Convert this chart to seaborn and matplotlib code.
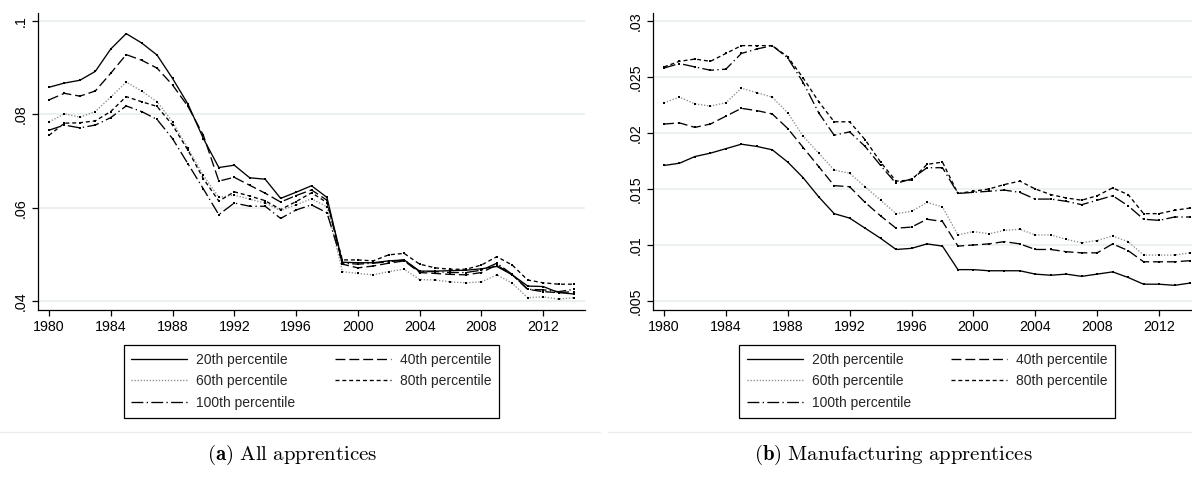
import matplotlib
matplotlib.use("Agg")
import matplotlib.pyplot as plt
from matplotlib.lines import Line2D
from matplotlib.ticker import FuncFormatter
import seaborn as sns

# ---- data -------------------------------------------------------------
years = list(range(1980, 2015))

all_p20 = [.0858, .0867, .0873, .0892, .0940, .0973, .0953, .0927, .0877, .0822,
           .0748, .0686, .0691, .0664, .0661, .0620, .0633, .0647, .0622, .0483,
           .0482, .0482, .0486, .0488, .0464, .0464, .0465, .0466, .0469, .0474,
           .0456, .0432, .0431, .0418, .0415]
all_p40 = [.0831, .0845, .0839, .0850, .0888, .0928, .0916, .0899, .0863, .0817,
           .0755, .0657, .0665, .0648, .0631, .0612, .0626, .0638, .0616, .0479,
           .0471, .0475, .0481, .0486, .0461, .0459, .0457, .0456, .0461, .0477,
           .0456, .0425, .0420, .0418, .0420]
all_p60 = [.0784, .0801, .0794, .0806, .0837, .0869, .0850, .0827, .0784, .0727,
           .0669, .0622, .0627, .0618, .0610, .0594, .0606, .0619, .0602, .0463,
           .0459, .0456, .0463, .0468, .0446, .0445, .0441, .0439, .0441, .0456,
           .0438, .0407, .0409, .0404, .0407]
all_p80 = [.0755, .0781, .0782, .0786, .0806, .0838, .0827, .0817, .0777, .0723,
           .0662, .0614, .0634, .0625, .0615, .0596, .0613, .0632, .0611, .0488,
           .0488, .0486, .0499, .0502, .0479, .0471, .0468, .0468, .0477, .0495,
           .0477, .0445, .0439, .0436, .0436]
all_p100 = [.0766, .0777, .0771, .0777, .0793, .0818, .0806, .0789, .0748, .0694,
            .0640, .0585, .0610, .0603, .0603, .0577, .0595, .0606, .0589, .0481,
            .0479, .0481, .0484, .0488, .0463, .0463, .0461, .0461, .0466, .0481,
            .0457, .0425, .0424, .0420, .0425]

mfg_p20 = [.0171, .0173, .0179, .0182, .0186, .0190, .0188, .0185, .0174, .0160,
           .0143, .0128, .0124, .0115, .0106, .0096, .0097, .0101, .0099, .0078,
           .0078, .0077, .0077, .0077, .0074, .0073, .0074, .0072, .0074, .0076,
           .0071, .0065, .0065, .0064, .0066]
mfg_p40 = [.0208, .0209, .0205, .0208, .0215, .0222, .0220, .0217, .0204, .0187,
           .0170, .0153, .0152, .0138, .0126, .0115, .0116, .0123, .0121, .0099,
           .0100, .0101, .0103, .0101, .0096, .0096, .0094, .0093, .0093, .0101,
           .0095, .0085, .0085, .0085, .0086]
mfg_p60 = [.0227, .0232, .0226, .0224, .0227, .0240, .0236, .0232, .0218, .0197,
           .0182, .0167, .0164, .0152, .0140, .0128, .0130, .0138, .0134, .0109,
           .0112, .0110, .0113, .0114, .0109, .0109, .0105, .0102, .0104, .0108,
           .0103, .0091, .0091, .0091, .0093]
mfg_p80 = [.0259, .0264, .0266, .0264, .0271, .0278, .0278, .0278, .0268, .0249,
           .0228, .0210, .0210, .0194, .0174, .0157, .0158, .0172, .0174, .0146,
           .0148, .0150, .0154, .0157, .0150, .0145, .0142, .0140, .0144, .0151,
           .0145, .0128, .0128, .0131, .0133]
mfg_p100 = [.0258, .0262, .0259, .0256, .0257, .0271, .0275, .0278, .0267, .0245,
            .0218, .0198, .0201, .0188, .0171, .0155, .0159, .0169, .0169, .0146,
            .0147, .0148, .0149, .0147, .0141, .0141, .0139, .0136, .0140, .0144,
            .0135, .0123, .0122, .0125, .0125]

series_labels = ["20th percentile", "40th percentile", "60th percentile",
                 "80th percentile", "100th percentile"]
xticks = list(range(1980, 2013, 4))
all_yticks = [.04, .06, .08, .1]
mfg_yticks = [.005, .01, .015, .02, .025, .03]
captions = [r"$\mathbf{(a)}\ \mathrm{All\ apprentices}$",
            r"$\mathbf{(b)}\ \mathrm{Manufacturing\ apprentices}$"]

# ---- styling ----------------------------------------------------------
sns.set_theme(style="white")
plt.rcParams["font.family"] = ["Liberation Sans", "DejaVu Sans"]
plt.rcParams["mathtext.fontset"] = "cm"

line_styles = [
    ("black", "-"),
    ("black", (0, (7.5, 3))),
    ("#8c8c8c", (0, (1, 1.3))),
    ("black", (0, (3, 2.2))),
    ("black", (0, (9, 2.5, 1, 2.5))),
]
LW = 0.95
GRID = "#e6eef0"

W, H = 1192, 484
fig = plt.figure(figsize=(W / 100, H / 100), dpi=100)
fig.patch.set_facecolor("white")


def add_axes_px(x0, x1, ytop, ybot):
    return fig.add_axes([x0 / W, 1 - ybot / H, (x1 - x0) / W, (ybot - ytop) / H])


def stata_fmt(v, _pos=None):
    s = ("%g" % round(v, 4))
    return s[1:] if s.startswith("0.") else s


def draw_panel(ax, series, yticks, ylim, legend_cx):
    for vals, (col, ls) in zip(series, line_styles):
        sns.lineplot(x=years, y=vals, ax=ax, color=col, linestyle=ls,
                     linewidth=LW, marker="s", markersize=1.7,
                     markerfacecolor="black", markeredgecolor="black",
                     markeredgewidth=0, errorbar=None, legend=False)
    ax.set_xlim(1979.29, 2014.71)
    ax.set_ylim(*ylim)
    ax.set_xticks(xticks)
    ax.set_yticks(yticks)
    ax.yaxis.set_major_formatter(FuncFormatter(stata_fmt))
    ax.set_xlabel("")
    ax.set_ylabel("")
    ax.set_axisbelow(True)
    ax.yaxis.grid(True, color=GRID, linewidth=1.1)
    ax.xaxis.grid(False)
    for side in ("top", "right"):
        ax.spines[side].set_visible(False)
    for side in ("left", "bottom"):
        ax.spines[side].set_color("black")
        ax.spines[side].set_linewidth(0.9)
    ax.tick_params(axis="both", which="major", length=4, width=0.9,
                   color="black", direction="out", labelsize=10.3, pad=3.5,
                   left=True, bottom=True, labelcolor="black")
    for lbl in ax.get_yticklabels():
        lbl.set_rotation(90)
        lbl.set_va("center")

    handles = [Line2D([], [], color=c, linestyle=ls, linewidth=LW)
               for c, ls in line_styles]
    order = [0, 2, 4, 1, 3]
    leg = fig.legend([handles[i] for i in order],
                     [series_labels[i] for i in order],
                     loc="upper center",
                     bbox_to_anchor=(legend_cx / W, 1 - 345 / H),
                     bbox_transform=fig.transFigure, borderaxespad=0,
                     ncol=2, fontsize=10, handlelength=4.0,
                     handletextpad=0.65, columnspacing=2.9,
                     labelspacing=0.55, borderpad=0.55,
                     frameon=True, fancybox=False, shadow=False)
    fr = leg.get_frame()
    fr.set_edgecolor("black")
    fr.set_linewidth(0.9)
    fr.set_alpha(1)


ax_a = add_axes_px(38, 585, 12.7, 310)
draw_panel(ax_a, [all_p20, all_p40, all_p60, all_p80, all_p100],
           all_yticks, (0.03807, 0.10178), 311.5)

ax_b = add_axes_px(653, 1201, 12.7, 310)
draw_panel(ax_b, [mfg_p20, mfg_p40, mfg_p60, mfg_p80, mfg_p100],
           mfg_yticks, (0.0041964, 0.03074), 927)

# faint outer edge of each graph region
for x0, x1 in ((0, 600), (608, 1192)):
    fig.add_artist(Line2D([x0 / W, x1 / W], [1 - 432 / H] * 2,
                          transform=fig.transFigure, color="#ececec", lw=1))

# subfigure captions
for cx, text in zip((292, 893), captions):
    fig.text(cx / W, 1 - 455 / H, text, ha="center", va="center",
             fontsize=15, color="black")

fig.savefig("out.png", dpi=100, facecolor="white")
